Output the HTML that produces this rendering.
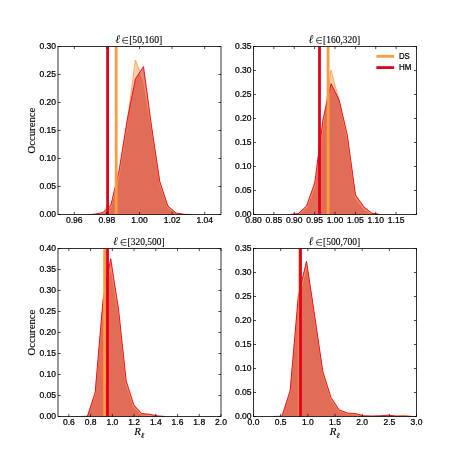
<!DOCTYPE html>
<html><head><meta charset="utf-8"><title>Histograms</title>
<style>html,body{margin:0;padding:0;background:#fff;}svg{display:block;will-change:transform;}</style>
</head><body>
<svg width="463" height="463" viewBox="0 0 463 463">
<rect width="463" height="463" fill="#fff"/>
<clipPath id="c1"><rect x="58.0" y="46.5" width="163.0" height="168.0"/></clipPath>
<g clip-path="url(#c1)">
<polygon points="86.6,214.5 94.7,214.5 102.8,213.2 110.9,207.5 119.1,175.5 127.2,122.5 135.4,60.0 143.5,80.5 151.6,129.5 159.8,184.0 167.9,207.5 176.1,213.4 184.2,214.5 192.4,214.5" fill="#fd9a44" fill-opacity="0.45"/>
<polygon points="90.0,214.5 94.7,214.2 102.8,212.5 110.9,205.0 119.1,170.5 127.2,120.0 135.4,78.9 143.5,66.6 151.6,126.7 159.8,181.6 167.9,206.0 176.1,213.0 184.2,214.3 192.4,214.5" fill="#c40703" fill-opacity="0.5"/>
<polyline points="86.6,214.5 94.7,214.5 102.8,213.2 110.9,207.5 119.1,175.5 127.2,122.5 135.4,60.0 143.5,80.5 151.6,129.5 159.8,184.0 167.9,207.5 176.1,213.4 184.2,214.5 192.4,214.5" fill="none" stroke="#fd9a44" stroke-width="0.8" stroke-linejoin="round"/>
<polyline points="90.0,214.5 94.7,214.2 102.8,212.5 110.9,205.0 119.1,170.5 127.2,120.0 135.4,78.9 143.5,66.6 151.6,126.7 159.8,181.6 167.9,206.0 176.1,213.0 184.2,214.3 192.4,214.5" fill="none" stroke="#e2001a" stroke-width="0.9" stroke-linejoin="round"/>
<line x1="116.2" x2="116.2" y1="46.5" y2="214.5" stroke="#fd9a44" stroke-width="2.8"/>
<line x1="107.6" x2="107.6" y1="46.5" y2="214.5" stroke="#e2001a" stroke-width="2.8"/>
</g>
<path d="M74.30 214.5v-2.6M74.30 46.5v2.6M106.90 214.5v-2.6M106.90 46.5v2.6M139.50 214.5v-2.6M139.50 46.5v2.6M172.10 214.5v-2.6M172.10 46.5v2.6M204.70 214.5v-2.6M204.70 46.5v2.6M58.0 214.50h2.6M221.0 214.50h-2.6M58.0 186.50h2.6M221.0 186.50h-2.6M58.0 158.50h2.6M221.0 158.50h-2.6M58.0 130.50h2.6M221.0 130.50h-2.6M58.0 102.50h2.6M221.0 102.50h-2.6M58.0 74.50h2.6M221.0 74.50h-2.6M58.0 46.50h2.6M221.0 46.50h-2.6" stroke="#000" stroke-width="0.7" fill="none"/>
<rect x="58.0" y="46.5" width="163.0" height="168.0" fill="none" stroke="#000" stroke-width="0.8"/>
<g font-family="'Liberation Sans', sans-serif" font-size="8.6" fill="#000" stroke="#000" stroke-width="0.24">
<text x="66.01" y="222.90" textLength="16.58" lengthAdjust="spacingAndGlyphs">0.96</text>
<text x="98.61" y="222.90" textLength="16.58" lengthAdjust="spacingAndGlyphs">0.98</text>
<text x="131.21" y="222.90" textLength="16.58" lengthAdjust="spacingAndGlyphs">1.00</text>
<text x="163.81" y="222.90" textLength="16.58" lengthAdjust="spacingAndGlyphs">1.02</text>
<text x="196.41" y="222.90" textLength="16.58" lengthAdjust="spacingAndGlyphs">1.04</text>
<text x="39.42" y="217.30" textLength="16.58" lengthAdjust="spacingAndGlyphs">0.00</text>
<text x="39.42" y="189.30" textLength="16.58" lengthAdjust="spacingAndGlyphs">0.05</text>
<text x="39.42" y="161.30" textLength="16.58" lengthAdjust="spacingAndGlyphs">0.10</text>
<text x="39.42" y="133.30" textLength="16.58" lengthAdjust="spacingAndGlyphs">0.15</text>
<text x="39.42" y="105.30" textLength="16.58" lengthAdjust="spacingAndGlyphs">0.20</text>
<text x="39.42" y="77.30" textLength="16.58" lengthAdjust="spacingAndGlyphs">0.25</text>
<text x="39.42" y="49.30" textLength="16.58" lengthAdjust="spacingAndGlyphs">0.30</text>
</g>
<g font-family="'Liberation Serif', serif" fill="#000">
<text x="115.35" y="43.30" font-size="11.6" font-style="italic">&#8467;</text>
<path d="M128.05 37.50H125.50A2.95 2.95 0 0 0 125.50 43.40H128.05M122.55 40.45H128.05" fill="none" stroke="#000" stroke-width="0.65"/>
<text x="129.15" y="43.30" font-size="10.9" stroke="#000" stroke-width="0.12" textLength="33.10" lengthAdjust="spacingAndGlyphs">[50,160]</text>
</g>
<text transform="translate(35.2 130.60) rotate(-90)" text-anchor="middle" font-family="'Liberation Serif', serif" font-size="10.7" fill="#000" stroke="#000" stroke-width="0.15">Occurence</text>
<clipPath id="c2"><rect x="253.5" y="46.5" width="163.0" height="168.0"/></clipPath>
<g clip-path="url(#c2)">
<polygon points="290.2,214.5 298.4,213.9 306.5,208.0 314.7,187.0 322.9,126.0 331.0,69.9 339.2,101.0 347.3,139.0 355.5,198.0 363.6,209.0 371.8,213.8 380.0,214.5" fill="#fd9a44" fill-opacity="0.45"/>
<polygon points="290.2,214.5 298.4,213.5 306.5,206.0 314.7,183.0 322.9,120.0 331.0,83.6 339.2,100.1 347.3,135.0 355.5,195.0 363.6,206.5 371.8,213.2 380.0,214.5" fill="#c40703" fill-opacity="0.5"/>
<polyline points="290.2,214.5 298.4,213.9 306.5,208.0 314.7,187.0 322.9,126.0 331.0,69.9 339.2,101.0 347.3,139.0 355.5,198.0 363.6,209.0 371.8,213.8 380.0,214.5" fill="none" stroke="#fd9a44" stroke-width="0.8" stroke-linejoin="round"/>
<polyline points="290.2,214.5 298.4,213.5 306.5,206.0 314.7,183.0 322.9,120.0 331.0,83.6 339.2,100.1 347.3,135.0 355.5,195.0 363.6,206.5 371.8,213.2 380.0,214.5" fill="none" stroke="#e2001a" stroke-width="0.9" stroke-linejoin="round"/>
<line x1="328.1" x2="328.1" y1="46.5" y2="214.5" stroke="#fd9a44" stroke-width="2.8"/>
<line x1="319.5" x2="319.5" y1="46.5" y2="214.5" stroke="#e2001a" stroke-width="2.8"/>
</g>
<path d="M253.50 214.5v-2.6M253.50 46.5v2.6M273.88 214.5v-2.6M273.88 46.5v2.6M294.25 214.5v-2.6M294.25 46.5v2.6M314.62 214.5v-2.6M314.62 46.5v2.6M335.00 214.5v-2.6M335.00 46.5v2.6M355.38 214.5v-2.6M355.38 46.5v2.6M375.75 214.5v-2.6M375.75 46.5v2.6M396.12 214.5v-2.6M396.12 46.5v2.6M416.50 214.5v-2.6M416.50 46.5v2.6M253.5 214.50h2.6M416.5 214.50h-2.6M253.5 190.50h2.6M416.5 190.50h-2.6M253.5 166.50h2.6M416.5 166.50h-2.6M253.5 142.50h2.6M416.5 142.50h-2.6M253.5 118.50h2.6M416.5 118.50h-2.6M253.5 94.50h2.6M416.5 94.50h-2.6M253.5 70.50h2.6M416.5 70.50h-2.6M253.5 46.50h2.6M416.5 46.50h-2.6" stroke="#000" stroke-width="0.7" fill="none"/>
<rect x="253.5" y="46.5" width="163.0" height="168.0" fill="none" stroke="#000" stroke-width="0.8"/>
<g font-family="'Liberation Sans', sans-serif" font-size="8.6" fill="#000" stroke="#000" stroke-width="0.24">
<text x="245.21" y="222.90" textLength="16.58" lengthAdjust="spacingAndGlyphs">0.80</text>
<text x="265.58" y="222.90" textLength="16.58" lengthAdjust="spacingAndGlyphs">0.85</text>
<text x="285.96" y="222.90" textLength="16.58" lengthAdjust="spacingAndGlyphs">0.90</text>
<text x="306.33" y="222.90" textLength="16.58" lengthAdjust="spacingAndGlyphs">0.95</text>
<text x="326.71" y="222.90" textLength="16.58" lengthAdjust="spacingAndGlyphs">1.00</text>
<text x="347.08" y="222.90" textLength="16.58" lengthAdjust="spacingAndGlyphs">1.05</text>
<text x="367.46" y="222.90" textLength="16.58" lengthAdjust="spacingAndGlyphs">1.10</text>
<text x="387.83" y="222.90" textLength="16.58" lengthAdjust="spacingAndGlyphs">1.15</text>
<text x="234.92" y="217.30" textLength="16.58" lengthAdjust="spacingAndGlyphs">0.00</text>
<text x="234.92" y="193.30" textLength="16.58" lengthAdjust="spacingAndGlyphs">0.05</text>
<text x="234.92" y="169.30" textLength="16.58" lengthAdjust="spacingAndGlyphs">0.10</text>
<text x="234.92" y="145.30" textLength="16.58" lengthAdjust="spacingAndGlyphs">0.15</text>
<text x="234.92" y="121.30" textLength="16.58" lengthAdjust="spacingAndGlyphs">0.20</text>
<text x="234.92" y="97.30" textLength="16.58" lengthAdjust="spacingAndGlyphs">0.25</text>
<text x="234.92" y="73.30" textLength="16.58" lengthAdjust="spacingAndGlyphs">0.30</text>
<text x="234.92" y="49.30" textLength="16.58" lengthAdjust="spacingAndGlyphs">0.35</text>
</g>
<g font-family="'Liberation Serif', serif" fill="#000">
<text x="308.40" y="43.30" font-size="11.6" font-style="italic">&#8467;</text>
<path d="M321.90 37.50H319.35A2.95 2.95 0 0 0 319.35 43.40H321.90M316.40 40.45H321.90" fill="none" stroke="#000" stroke-width="0.65"/>
<text x="323.00" y="43.30" font-size="10.9" stroke="#000" stroke-width="0.12" textLength="37.20" lengthAdjust="spacingAndGlyphs">[160,320]</text>
</g>
<clipPath id="c3"><rect x="58.0" y="248.5" width="163.0" height="168.0"/></clipPath>
<g clip-path="url(#c3)">
<polygon points="87.5,416.5 95.2,394.0 103.0,305.0 110.8,266.9 118.5,313.0 126.2,385.0 133.9,407.5 141.7,414.8 149.4,415.4 157.2,416.5" fill="#fd9a44" fill-opacity="0.45"/>
<polygon points="79.7,416.5 87.5,416.2 95.2,392.2 103.0,300.0 110.7,258.7 118.5,309.0 126.2,381.0 133.9,405.0 141.7,413.6 149.4,414.2 157.2,415.8 165.0,416.5" fill="#c40703" fill-opacity="0.5"/>
<polyline points="87.5,416.5 95.2,394.0 103.0,305.0 110.8,266.9 118.5,313.0 126.2,385.0 133.9,407.5 141.7,414.8 149.4,415.4 157.2,416.5" fill="none" stroke="#fd9a44" stroke-width="0.8" stroke-linejoin="round"/>
<polyline points="79.7,416.5 87.5,416.2 95.2,392.2 103.0,300.0 110.7,258.7 118.5,309.0 126.2,381.0 133.9,405.0 141.7,413.6 149.4,414.2 157.2,415.8 165.0,416.5" fill="none" stroke="#e2001a" stroke-width="0.9" stroke-linejoin="round"/>
<line x1="104.6" x2="104.6" y1="248.5" y2="416.5" stroke="#fd9a44" stroke-width="2.8"/>
<line x1="107.5" x2="107.5" y1="248.5" y2="416.5" stroke="#e2001a" stroke-width="2.8"/>
</g>
<path d="M68.87 416.5v-2.6M68.87 248.5v2.6M90.60 416.5v-2.6M90.60 248.5v2.6M112.33 416.5v-2.6M112.33 248.5v2.6M134.07 416.5v-2.6M134.07 248.5v2.6M155.80 416.5v-2.6M155.80 248.5v2.6M177.53 416.5v-2.6M177.53 248.5v2.6M199.27 416.5v-2.6M199.27 248.5v2.6M221.00 416.5v-2.6M221.00 248.5v2.6M58.0 416.50h2.6M221.0 416.50h-2.6M58.0 395.50h2.6M221.0 395.50h-2.6M58.0 374.50h2.6M221.0 374.50h-2.6M58.0 353.50h2.6M221.0 353.50h-2.6M58.0 332.50h2.6M221.0 332.50h-2.6M58.0 311.50h2.6M221.0 311.50h-2.6M58.0 290.50h2.6M221.0 290.50h-2.6M58.0 269.50h2.6M221.0 269.50h-2.6M58.0 248.50h2.6M221.0 248.50h-2.6" stroke="#000" stroke-width="0.7" fill="none"/>
<rect x="58.0" y="248.5" width="163.0" height="168.0" fill="none" stroke="#000" stroke-width="0.8"/>
<g font-family="'Liberation Sans', sans-serif" font-size="8.6" fill="#000" stroke="#000" stroke-width="0.24">
<text x="62.94" y="424.90" textLength="11.85" lengthAdjust="spacingAndGlyphs">0.6</text>
<text x="84.68" y="424.90" textLength="11.85" lengthAdjust="spacingAndGlyphs">0.8</text>
<text x="106.41" y="424.90" textLength="11.85" lengthAdjust="spacingAndGlyphs">1.0</text>
<text x="128.14" y="424.90" textLength="11.85" lengthAdjust="spacingAndGlyphs">1.2</text>
<text x="149.88" y="424.90" textLength="11.85" lengthAdjust="spacingAndGlyphs">1.4</text>
<text x="171.61" y="424.90" textLength="11.85" lengthAdjust="spacingAndGlyphs">1.6</text>
<text x="193.34" y="424.90" textLength="11.85" lengthAdjust="spacingAndGlyphs">1.8</text>
<text x="215.08" y="424.90" textLength="11.85" lengthAdjust="spacingAndGlyphs">2.0</text>
<text x="39.42" y="419.30" textLength="16.58" lengthAdjust="spacingAndGlyphs">0.00</text>
<text x="39.42" y="398.30" textLength="16.58" lengthAdjust="spacingAndGlyphs">0.05</text>
<text x="39.42" y="377.30" textLength="16.58" lengthAdjust="spacingAndGlyphs">0.10</text>
<text x="39.42" y="356.30" textLength="16.58" lengthAdjust="spacingAndGlyphs">0.15</text>
<text x="39.42" y="335.30" textLength="16.58" lengthAdjust="spacingAndGlyphs">0.20</text>
<text x="39.42" y="314.30" textLength="16.58" lengthAdjust="spacingAndGlyphs">0.25</text>
<text x="39.42" y="293.30" textLength="16.58" lengthAdjust="spacingAndGlyphs">0.30</text>
<text x="39.42" y="272.30" textLength="16.58" lengthAdjust="spacingAndGlyphs">0.35</text>
<text x="39.42" y="251.30" textLength="16.58" lengthAdjust="spacingAndGlyphs">0.40</text>
</g>
<g font-family="'Liberation Serif', serif" fill="#000">
<text x="112.90" y="245.30" font-size="11.6" font-style="italic">&#8467;</text>
<path d="M126.40 239.50H123.85A2.95 2.95 0 0 0 123.85 245.40H126.40M120.90 242.45H126.40" fill="none" stroke="#000" stroke-width="0.65"/>
<text x="127.50" y="245.30" font-size="10.9" stroke="#000" stroke-width="0.12" textLength="37.20" lengthAdjust="spacingAndGlyphs">[320,500]</text>
</g>
<text transform="translate(35.2 332.60) rotate(-90)" text-anchor="middle" font-family="'Liberation Serif', serif" font-size="10.7" fill="#000" stroke="#000" stroke-width="0.15">Occurence</text>
<text x="134.20" y="434.90" font-family="'Liberation Serif', serif" font-style="italic" font-size="10.9" fill="#000" stroke="#000" stroke-width="0.12">R<tspan dy="2.6" dx="-0.2" font-size="7.8">&#8467;</tspan></text>
<clipPath id="c4"><rect x="253.5" y="248.5" width="163.0" height="168.0"/></clipPath>
<g clip-path="url(#c4)">
<polygon points="282.0,416.5 290.2,392.0 298.3,300.0 307.0,265.6 314.7,318.5 322.8,373.5 331.0,399.5 339.1,410.8 347.3,413.8 355.5,414.6 363.6,416.1 371.8,416.5 380.0,416.5 388.1,416.0 396.3,416.3 404.4,415.2 412.6,416.5 416.7,416.5" fill="#fd9a44" fill-opacity="0.45"/>
<polygon points="273.9,416.5 282.0,416.2 290.2,390.3 298.3,296.0 306.5,261.3 314.7,316.0 322.8,371.5 331.0,397.5 339.1,409.8 347.3,413.0 355.5,413.6 363.6,415.8 371.8,416.0 380.0,415.8 388.1,415.2 396.3,416.0 404.4,416.2 412.6,416.5 416.7,416.5" fill="#c40703" fill-opacity="0.5"/>
<polyline points="282.0,416.5 290.2,392.0 298.3,300.0 307.0,265.6 314.7,318.5 322.8,373.5 331.0,399.5 339.1,410.8 347.3,413.8 355.5,414.6 363.6,416.1 371.8,416.5 380.0,416.5 388.1,416.0 396.3,416.3 404.4,415.2 412.6,416.5 416.7,416.5" fill="none" stroke="#fd9a44" stroke-width="0.8" stroke-linejoin="round"/>
<polyline points="273.9,416.5 282.0,416.2 290.2,390.3 298.3,296.0 306.5,261.3 314.7,316.0 322.8,371.5 331.0,397.5 339.1,409.8 347.3,413.0 355.5,413.6 363.6,415.8 371.8,416.0 380.0,415.8 388.1,415.2 396.3,416.0 404.4,416.2 412.6,416.5 416.7,416.5" fill="none" stroke="#e2001a" stroke-width="0.9" stroke-linejoin="round"/>
<line x1="299.9" x2="299.9" y1="248.5" y2="416.5" stroke="#fd9a44" stroke-width="2.8"/>
<line x1="300.5" x2="300.5" y1="248.5" y2="416.5" stroke="#e2001a" stroke-width="2.8"/>
</g>
<path d="M253.50 416.5v-2.6M253.50 248.5v2.6M280.67 416.5v-2.6M280.67 248.5v2.6M307.83 416.5v-2.6M307.83 248.5v2.6M335.00 416.5v-2.6M335.00 248.5v2.6M362.17 416.5v-2.6M362.17 248.5v2.6M389.33 416.5v-2.6M389.33 248.5v2.6M416.50 416.5v-2.6M416.50 248.5v2.6M253.5 416.50h2.6M416.5 416.50h-2.6M253.5 392.50h2.6M416.5 392.50h-2.6M253.5 368.50h2.6M416.5 368.50h-2.6M253.5 344.50h2.6M416.5 344.50h-2.6M253.5 320.50h2.6M416.5 320.50h-2.6M253.5 296.50h2.6M416.5 296.50h-2.6M253.5 272.50h2.6M416.5 272.50h-2.6M253.5 248.50h2.6M416.5 248.50h-2.6" stroke="#000" stroke-width="0.7" fill="none"/>
<rect x="253.5" y="248.5" width="163.0" height="168.0" fill="none" stroke="#000" stroke-width="0.8"/>
<g font-family="'Liberation Sans', sans-serif" font-size="8.6" fill="#000" stroke="#000" stroke-width="0.24">
<text x="247.58" y="424.90" textLength="11.85" lengthAdjust="spacingAndGlyphs">0.0</text>
<text x="274.74" y="424.90" textLength="11.85" lengthAdjust="spacingAndGlyphs">0.5</text>
<text x="301.91" y="424.90" textLength="11.85" lengthAdjust="spacingAndGlyphs">1.0</text>
<text x="329.08" y="424.90" textLength="11.85" lengthAdjust="spacingAndGlyphs">1.5</text>
<text x="356.24" y="424.90" textLength="11.85" lengthAdjust="spacingAndGlyphs">2.0</text>
<text x="383.41" y="424.90" textLength="11.85" lengthAdjust="spacingAndGlyphs">2.5</text>
<text x="410.58" y="424.90" textLength="11.85" lengthAdjust="spacingAndGlyphs">3.0</text>
<text x="234.92" y="419.30" textLength="16.58" lengthAdjust="spacingAndGlyphs">0.00</text>
<text x="234.92" y="395.30" textLength="16.58" lengthAdjust="spacingAndGlyphs">0.05</text>
<text x="234.92" y="371.30" textLength="16.58" lengthAdjust="spacingAndGlyphs">0.10</text>
<text x="234.92" y="347.30" textLength="16.58" lengthAdjust="spacingAndGlyphs">0.15</text>
<text x="234.92" y="323.30" textLength="16.58" lengthAdjust="spacingAndGlyphs">0.20</text>
<text x="234.92" y="299.30" textLength="16.58" lengthAdjust="spacingAndGlyphs">0.25</text>
<text x="234.92" y="275.30" textLength="16.58" lengthAdjust="spacingAndGlyphs">0.30</text>
<text x="234.92" y="251.30" textLength="16.58" lengthAdjust="spacingAndGlyphs">0.35</text>
</g>
<g font-family="'Liberation Serif', serif" fill="#000">
<text x="308.40" y="245.30" font-size="11.6" font-style="italic">&#8467;</text>
<path d="M321.90 239.50H319.35A2.95 2.95 0 0 0 319.35 245.40H321.90M316.40 242.45H321.90" fill="none" stroke="#000" stroke-width="0.65"/>
<text x="323.00" y="245.30" font-size="10.9" stroke="#000" stroke-width="0.12" textLength="37.20" lengthAdjust="spacingAndGlyphs">[500,700]</text>
</g>
<text x="329.70" y="434.90" font-family="'Liberation Serif', serif" font-style="italic" font-size="10.9" fill="#000" stroke="#000" stroke-width="0.12">R<tspan dy="2.6" dx="-0.2" font-size="7.8">&#8467;</tspan></text>
<line x1="376.4" x2="394.1" y1="56.3" y2="56.3" stroke="#fd9a44" stroke-width="2.8"/>
<line x1="376.4" x2="394.1" y1="67.6" y2="67.6" stroke="#e2001a" stroke-width="2.8"/>
<g font-family="'Liberation Sans', sans-serif" font-size="8.6" fill="#000" stroke="#000" stroke-width="0.24">
<text x="399.0" y="59.2" textLength="10.8" lengthAdjust="spacingAndGlyphs">DS</text>
<text x="399.0" y="70.4" textLength="12.4" lengthAdjust="spacingAndGlyphs">HM</text>
</g>
</svg>
</body></html>
